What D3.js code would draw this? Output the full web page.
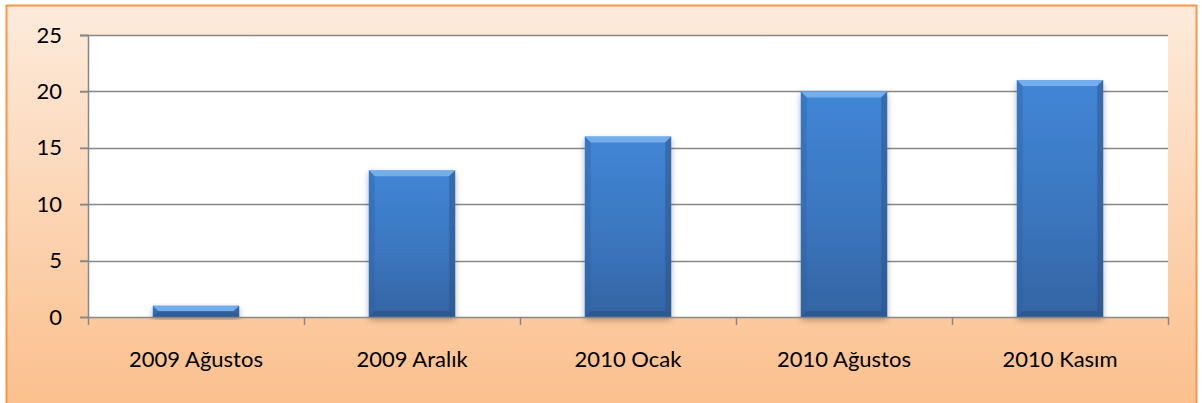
<!DOCTYPE html>
<html>
<head>
<meta charset="utf-8">
<script src="https://cdn.jsdelivr.net/npm/d3@7"></script>
<style>
  html, body { margin: 0; padding: 0; background: #fff; }
  #chart { width: 1202px; height: 403px; }
</style>
</head>
<body>
<div id="chart"></div>
<script>
// chart values
const categories = ['2009 Ağustos', '2009 Aralık', '2010 Ocak', '2010 Ağustos', '2010 Kasım'];
const values = [1, 13, 16, 20, 21];
const yTicks = [0, 5, 10, 15, 20, 25];

const width = 1202, height = 403;
const margin = { top: 35, right: 34, bottom: 86, left: 88 };
const innerW = width - margin.left - margin.right;
const innerH = height - margin.top - margin.bottom;
const fontFamily = 'Lato, "Open Sans", sans-serif';

const svg = d3.select('#chart')
  .append('svg')
  .attr('width', width)
  .attr('height', height);

const defs = svg.append('defs');

// background gradient of the chart area
const bg = defs.append('linearGradient')
  .attr('id', 'bg').attr('x1', 0).attr('y1', 0).attr('x2', 0).attr('y2', 1);
bg.append('stop').attr('offset', '0%').attr('stop-color', '#FDEBDC');
bg.append('stop').attr('offset', '100%').attr('stop-color', '#FBBF8C');

// bar face gradient
const barGrad = defs.append('linearGradient')
  .attr('id', 'barFace').attr('x1', 0).attr('y1', 0).attr('x2', 0).attr('y2', 1);
barGrad.append('stop').attr('offset', '0%').attr('stop-color', '#4186D6');
barGrad.append('stop').attr('offset', '55%').attr('stop-color', '#3B76BF');
barGrad.append('stop').attr('offset', '100%').attr('stop-color', '#3464A3');

const shadow = defs.append('filter').attr('id', 'shadow')
  .attr('x', '-20%').attr('y', '-20%').attr('width', '140%').attr('height', '140%');
shadow.append('feDropShadow')
  .attr('dx', 0).attr('dy', 3).attr('stdDeviation', 3)
  .attr('flood-color', '#000').attr('flood-opacity', 0.3);

// outer frame (bottom edge runs off the picture)
svg.append('rect')
  .attr('x', 6.5).attr('y', 5.5)
  .attr('width', 1190).attr('height', 405)
  .attr('fill', 'url(#bg)')
  .attr('stroke', '#F79646')
  .attr('stroke-width', 2);

const g = svg.append('g')
  .attr('transform', `translate(${margin.left},${margin.top})`);

// plot area
g.append('rect')
  .attr('width', innerW).attr('height', innerH)
  .attr('fill', '#fff');

const x = d3.scaleBand()
  .domain(categories)
  .range([0, innerW])
  .paddingInner(0.6)
  .paddingOuter(0.3);

const xCat = d3.scaleBand()
  .domain(categories)
  .range([0, innerW]);

const y = d3.scaleLinear()
  .domain([0, 25])
  .range([innerH, 0]);

// gridlines
g.append('g')
  .selectAll('line')
  .data(yTicks.filter(d => d > 0))
  .enter()
  .append('line')
  .attr('x1', -8).attr('x2', innerW)
  .attr('y1', d => Math.round(y(d)) + 0.5)
  .attr('y2', d => Math.round(y(d)) + 0.5)
  .attr('stroke', '#878787')
  .attr('stroke-width', 1.5);

// y axis
const yAxis = g.append('g')
  .call(d3.axisLeft(y).tickValues(yTicks).tickSize(8).tickPadding(18));
yAxis.select('.domain').attr('stroke', '#878787').attr('stroke-width', 1.5);
yAxis.selectAll('line').attr('stroke', '#878787').attr('stroke-width', 1.5);
yAxis.selectAll('text')
  .style('font-family', fontFamily)
  .style('font-size', '22px')
  .attr('fill', '#000');

// bars
const bars = g.append('g').selectAll('g.bar')
  .data(values)
  .enter()
  .append('g')
  .attr('class', 'bar');

const bx = (d, i) => x(categories[i]);
const bw = x.bandwidth();
const bev = 6;

bars.append('rect')
  .attr('x', bx)
  .attr('y', d => y(d))
  .attr('width', bw)
  .attr('height', d => innerH - y(d))
  .attr('fill', 'url(#barFace)')
  .attr('filter', 'url(#shadow)');

// bevel edges: top (light), right/left (slightly dark), bottom (darker)
bars.append('path')
  .attr('d', (d, i) => {
    const x0 = bx(d, i), x1 = x0 + bw, y0 = y(d);
    const b = Math.min(bev, (innerH - y0) / 2);
    return `M${x0},${y0}L${x1},${y0}L${x1 - b},${y0 + b}L${x0 + b},${y0 + b}Z`;
  })
  .attr('fill', '#7DB4EF').attr('opacity', 0.85);

bars.append('path')
  .attr('d', (d, i) => {
    const x0 = bx(d, i), x1 = x0 + bw, y0 = y(d), y1 = innerH;
    const b = Math.min(bev, (y1 - y0) / 2);
    return `M${x1},${y0}L${x1},${y1}L${x1 - b},${y1 - b}L${x1 - b},${y0 + b}Z`;
  })
  .attr('fill', '#264F82').attr('opacity', 0.45);

bars.append('path')
  .attr('d', (d, i) => {
    const x0 = bx(d, i), y0 = y(d), y1 = innerH;
    const b = Math.min(bev, (y1 - y0) / 2);
    return `M${x0},${y0}L${x0 + b},${y0 + b}L${x0 + b},${y1 - b}L${x0},${y1}Z`;
  })
  .attr('fill', '#2F5F9C').attr('opacity', 0.35);

bars.append('path')
  .attr('d', (d, i) => {
    const x0 = bx(d, i), x1 = x0 + bw, y0 = y(d), y1 = innerH;
    const b = Math.min(bev, (y1 - y0) / 2);
    return `M${x0},${y1}L${x0 + b},${y1 - b}L${x1 - b},${y1 - b}L${x1},${y1}Z`;
  })
  .attr('fill', '#244C7E').attr('opacity', 0.5);

// x axis
const xAxis = g.append('g')
  .attr('transform', `translate(0,${innerH})`);
xAxis.append('line')
  .attr('x1', 0).attr('x2', innerW)
  .attr('y1', 0.5).attr('y2', 0.5)
  .attr('stroke', '#878787').attr('stroke-width', 1.5);
xAxis.selectAll('line.tick')
  .data(categories.concat(['end']))
  .enter()
  .append('line')
  .attr('class', 'tick')
  .attr('x1', (d, i) => Math.round(i * xCat.bandwidth()) + 0.5)
  .attr('x2', (d, i) => Math.round(i * xCat.bandwidth()) + 0.5)
  .attr('y1', 0).attr('y2', 8)
  .attr('stroke', '#878787').attr('stroke-width', 1.5);
xAxis.selectAll('text')
  .data(categories)
  .enter()
  .append('text')
  .attr('x', d => xCat(d) + xCat.bandwidth() / 2)
  .attr('y', 50)
  .attr('text-anchor', 'middle')
  .style('font-family', fontFamily)
  .style('font-size', '22px')
  .attr('fill', '#000')
  .text(d => d);
</script>
</body>
</html>
